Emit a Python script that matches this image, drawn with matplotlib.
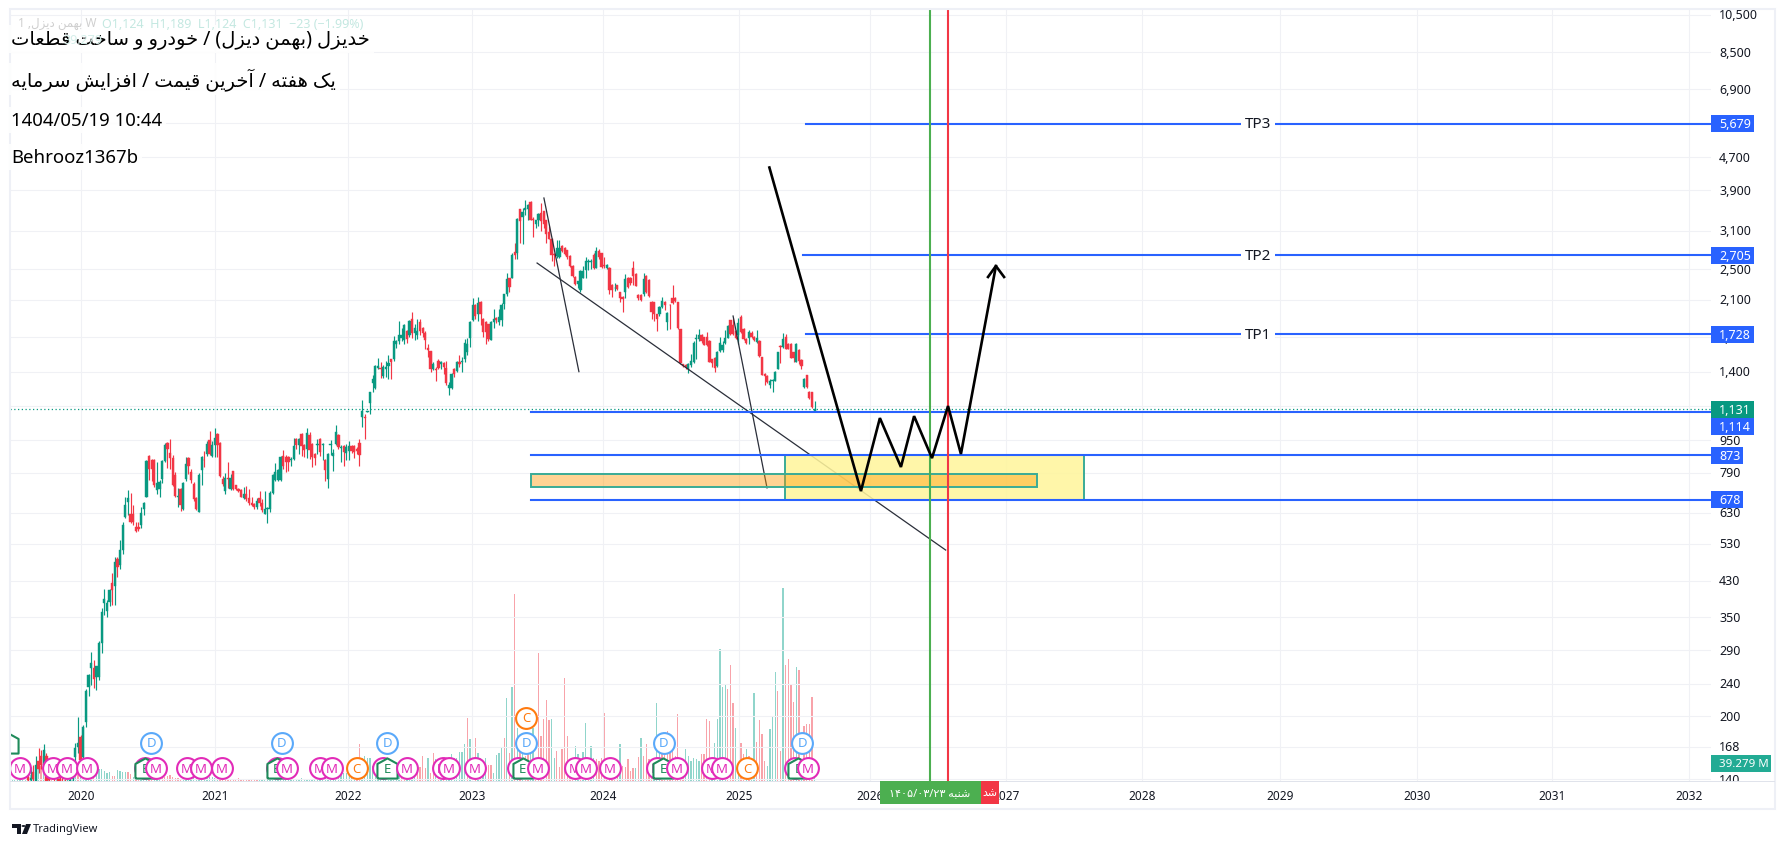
import matplotlib
matplotlib.use("Agg")
from matplotlib.patches import Circle, Polygon, Rectangle
import matplotlib.pyplot as plt
from matplotlib.transforms import ScaledTranslation
import numpy as np

WIDTH, HEIGHT = 1785, 845
AX_LEFT, AX_RIGHT, AX_TOP, AX_BOTTOM = 10, 1711, 10, 782

UP_COLOR = '#089981'
DOWN_COLOR = '#f23645'
BLUE = '#2962ff'
GRID = '#f0f1f5'
TEXT = '#131722'

# weekly candles, one value per bar
opens = [
    142, 139, 146, 135, 155, 160, 152, 160, 155, 148,
    145, 142, 140, 138, 136, 134, 136, 140, 159, 168,
    178, 159, 193, 236, 262, 262, 250, 250, 302, 378,
    362, 382, 424, 417, 487, 470, 510, 616, 672, 628,
    628, 583, 583, 590, 645, 690, 870, 851, 851, 719,
    720, 764, 845, 935, 885, 860, 780, 690, 720, 644,
    765, 860, 795, 742, 685, 635, 805, 852, 880, 950,
    870, 925, 985, 935, 765, 715, 768, 720, 797, 737,
    722, 716, 685, 702, 685, 667, 664, 652, 685, 665,
    628, 645, 643, 705, 758, 758, 758, 870, 865, 865,
    850, 855, 955, 925, 985, 925, 905, 980, 930, 880,
    925, 955, 925, 850, 762, 925, 870, 930, 980, 910,
    920, 885, 895, 920, 920, 905, 935, 1085, 1085, 1115,
    1175, 1315, 1275, 1430, 1430, 1365, 1420, 1445, 1500, 1500,
    1635, 1660, 1690, 1670, 1760, 1720, 1885, 1740, 1725, 1850,
    1795, 1745, 1600, 1570, 1425, 1425, 1490, 1465, 1470, 1430,
    1280, 1275, 1425, 1405, 1480, 1475, 1505, 1565, 1695, 1875,
    2040, 1935, 2075, 1890, 1855, 1830, 1675, 1855, 1900, 1850,
    1870, 2050, 2170, 2375, 2375, 2750, 2730, 3500, 3350, 3480,
    3510, 3660, 3310, 3220, 3300, 3430, 3460, 3290, 3080, 2970,
    2725, 2690, 2680, 2840, 2810, 2780, 2690, 2550, 2395, 2300,
    2225, 2380, 2490, 2600, 2600, 2700, 2520, 2770, 2730, 2555,
    2520, 2520, 2290, 2240, 2280, 2190, 2140, 2200, 2380, 2380,
    2510, 2430, 2160, 2160, 2170, 2410, 2350, 2080, 2070, 1935,
    1935, 2020, 2070, 1850, 2045, 2120, 2125, 2075, 1780, 1460,
    1455, 1420, 1450, 1480, 1680, 1680, 1725, 1700, 1700, 1660,
    1500, 1515, 1445, 1570, 1585, 1645, 1695, 1870, 1820, 1765,
    1720, 1905, 1785, 1685, 1690, 1740, 1700, 1655, 1665, 1520,
    1385, 1365, 1300, 1325, 1330, 1425, 1615, 1610, 1700, 1640,
    1640, 1560, 1480, 1580, 1495, 1285, 1370, 1250, 1245, 1124,
]
highs = [
    146, 150, 152, 160, 167, 165, 171, 162, 158, 154,
    150, 146, 144, 142, 140, 139, 142, 155, 172, 199,
    180, 190, 233, 254, 288, 274, 266, 305, 368, 410,
    385, 410, 449, 492, 492, 540, 600, 688, 718, 707,
    659, 600, 600, 652, 672, 850, 872, 855, 855, 841,
    760, 850, 935, 940, 958, 875, 795, 725, 725, 750,
    865, 865, 808, 752, 690, 790, 870, 895, 945, 1000,
    945, 1020, 990, 940, 775, 790, 840, 785, 800, 738,
    724, 720, 730, 733, 720, 690, 668, 685, 715, 680,
    715, 650, 712, 785, 835, 810, 870, 898, 872, 870,
    862, 960, 965, 960, 990, 930, 1020, 995, 935, 885,
    955, 960, 935, 855, 885, 950, 905, 1035, 985, 925,
    925, 930, 945, 925, 925, 915, 955, 1190, 1100, 1122,
    1250, 1370, 1455, 1510, 1480, 1450, 1490, 1540, 1505, 1715,
    1670, 1860, 1790, 1830, 1770, 1875, 1960, 1830, 1880, 1880,
    1800, 1760, 1640, 1575, 1475, 1440, 1500, 1490, 1480, 1490,
    1320, 1390, 1430, 1490, 1540, 1520, 1680, 1690, 1860, 2120,
    2050, 2130, 2085, 1895, 1860, 1835, 1860, 1990, 1905, 1990,
    2060, 2170, 2440, 2380, 2730, 2890, 3340, 3510, 3520, 3700,
    3610, 3680, 3350, 3290, 3430, 3620, 3470, 3300, 3180, 2980,
    2730, 2950, 2950, 2860, 2830, 2790, 2700, 2560, 2400, 2340,
    2480, 2550, 2680, 2650, 2640, 2740, 2830, 2800, 2740, 2680,
    2570, 2530, 2300, 2310, 2290, 2200, 2150, 2430, 2390, 2390,
    2620, 2440, 2170, 2170, 2440, 2420, 2360, 2090, 2080, 1940,
    2030, 2130, 2085, 1960, 2050, 2290, 2140, 2080, 1785, 1465,
    1465, 1470, 1545, 1660, 1730, 1785, 1735, 1705, 1750, 1670,
    1505, 1525, 1570, 1700, 1660, 1770, 1825, 1875, 1900, 1770,
    1900, 1930, 1790, 1690, 1770, 1760, 1710, 1770, 1670, 1525,
    1390, 1370, 1340, 1345, 1405, 1565, 1625, 1740, 1735, 1650,
    1650, 1565, 1650, 1590, 1500, 1350, 1375, 1255, 1250, 1189,
]
lows = [
    130, 132, 135, 130, 145, 148, 150, 135, 135, 140,
    138, 136, 134, 132, 130, 130, 133, 138, 150, 162,
    152, 156, 188, 224, 238, 234, 232, 245, 285, 355,
    350, 372, 375, 375, 439, 460, 500, 612, 622, 595,
    590, 565, 570, 580, 622, 690, 758, 755, 730, 700,
    688, 745, 840, 812, 810, 735, 690, 650, 636, 640,
    755, 785, 745, 675, 640, 632, 740, 815, 870, 875,
    865, 865, 865, 770, 735, 702, 725, 718, 718, 716,
    708, 688, 680, 675, 660, 655, 645, 645, 655, 635,
    625, 595, 635, 703, 755, 755, 755, 810, 795, 800,
    822, 850, 905, 878, 870, 862, 860, 855, 815, 825,
    880, 870, 850, 755, 725, 875, 800, 925, 905, 840,
    820, 850, 850, 885, 860, 880, 820, 1025, 955, 1112,
    1100, 1250, 1270, 1420, 1350, 1350, 1360, 1340, 1345, 1490,
    1600, 1640, 1660, 1635, 1650, 1700, 1690, 1670, 1680, 1720,
    1700, 1590, 1520, 1400, 1410, 1330, 1420, 1420, 1380, 1300,
    1225, 1270, 1355, 1395, 1440, 1400, 1480, 1540, 1610, 1860,
    1880, 1860, 1820, 1700, 1640, 1660, 1670, 1790, 1840, 1820,
    1810, 2000, 2150, 2200, 2370, 2640, 2640, 2900, 2880, 3390,
    3300, 3290, 3000, 3150, 3190, 3100, 3150, 2900, 2960, 2620,
    2540, 2660, 2660, 2750, 2700, 2640, 2530, 2390, 2280, 2240,
    2190, 2370, 2370, 2480, 2500, 2500, 2510, 2650, 2520, 2520,
    2500, 2170, 2130, 2210, 2220, 2080, 1960, 2120, 2240, 2280,
    2290, 2270, 2100, 2090, 2150, 2180, 2140, 1890, 1860, 1760,
    1920, 2010, 1980, 1770, 1780, 2055, 2080, 1785, 1465, 1440,
    1420, 1390, 1440, 1470, 1500, 1660, 1650, 1625, 1620, 1475,
    1440, 1395, 1440, 1565, 1560, 1640, 1690, 1725, 1720, 1680,
    1640, 1745, 1670, 1640, 1640, 1690, 1660, 1650, 1525, 1370,
    1300, 1310, 1280, 1245, 1325, 1420, 1470, 1600, 1590, 1590,
    1510, 1480, 1475, 1465, 1420, 1280, 1280, 1200, 1140, 1124,
]
closes = [
    139, 141, 140, 152, 148, 152, 165, 138, 139, 144,
    142, 140, 138, 136, 134, 136, 139, 150, 167, 172,
    156, 188, 231, 252, 270, 247, 265, 303, 361, 387,
    378, 407, 407, 477, 465, 510, 590, 659, 685, 600,
    600, 570, 577, 631, 665, 845, 810, 810, 736, 748,
    750, 845, 925, 905, 860, 740, 695, 695, 660, 746,
    830, 823, 757, 682, 643, 780, 865, 848, 930, 880,
    925, 960, 925, 775, 742, 768, 762, 768, 720, 720,
    712, 690, 702, 682, 667, 660, 650, 674, 665, 640,
    643, 648, 705, 780, 795, 803, 865, 820, 840, 838,
    855, 920, 925, 955, 920, 900, 990, 900, 865, 860,
    930, 890, 930, 805, 880, 930, 885, 995, 915, 915,
    890, 915, 920, 895, 890, 895, 875, 1120, 1075, 1120,
    1245, 1345, 1445, 1445, 1420, 1440, 1440, 1470, 1475, 1665,
    1660, 1725, 1725, 1820, 1685, 1860, 1740, 1790, 1765, 1760,
    1740, 1670, 1585, 1420, 1460, 1410, 1430, 1475, 1440, 1310,
    1295, 1380, 1385, 1480, 1465, 1490, 1645, 1640, 1850, 2035,
    1920, 2065, 1935, 1750, 1750, 1680, 1855, 1890, 1870, 1905,
    2045, 2165, 2365, 2260, 2710, 2710, 3320, 3280, 3450, 3520,
    3590, 3300, 3290, 3290, 3420, 3280, 3220, 3050, 2970, 2710,
    2700, 2810, 2810, 2770, 2720, 2670, 2540, 2405, 2300, 2335,
    2470, 2470, 2610, 2620, 2610, 2520, 2770, 2680, 2530, 2540,
    2560, 2220, 2220, 2250, 2235, 2120, 2110, 2360, 2260, 2310,
    2400, 2270, 2120, 2100, 2360, 2190, 2150, 1960, 1935, 1890,
    2020, 2090, 2040, 1945, 2035, 2065, 2090, 1790, 1470, 1445,
    1440, 1460, 1490, 1650, 1690, 1725, 1665, 1630, 1630, 1480,
    1470, 1430, 1560, 1645, 1630, 1695, 1815, 1735, 1735, 1695,
    1840, 1750, 1680, 1645, 1755, 1700, 1670, 1690, 1530, 1375,
    1365, 1320, 1330, 1332, 1400, 1560, 1605, 1680, 1595, 1595,
    1515, 1515, 1640, 1490, 1445, 1345, 1285, 1205, 1145, 1131,
]

# volume in millions, starts 7 bars before the first visible candle
VOLUME_START = -7
volumes = [
    2, 2, 2, 2, 2, 2, 2, 11, 13, 17,
    26, 26, 33, 22, 22, 17, 13, 13, 17, 13,
    13, 13, 11, 11, 11, 22, 26, 31, 39, 31,
    33, 33, 31, 26, 26, 26, 22, 17, 20, 11,
    11, 24, 22, 20, 20, 20, 15, 9, 7, 11,
    9, 7, 9, 11, 13, 9, 7, 9, 11, 9,
    11, 13, 9, 7, 7, 4, 7, 7, 7, 7,
    7, 7, 7, 7, 7, 7, 9, 9, 7, 7,
    7, 4, 4, 2, 2, 2, 4, 7, 4, 4,
    4, 4, 4, 4, 4, 4, 4, 4, 4, 4,
    7, 7, 7, 7, 7, 4, 7, 4, 4, 4,
    4, 7, 4, 4, 4, 4, 4, 4, 7, 7,
    7, 7, 4, 7, 7, 7, 13, 17, 17, 17,
    22, 28, 48, 81, 50, 55, 50, 50, 33, 22,
    20, 20, 22, 22, 26, 22, 15, 20, 24, 24,
    17, 17, 17, 22, 20, 26, 31, 55, 28, 50,
    17, 61, 48, 22, 44, 33, 44, 44, 59, 50,
    50, 63, 63, 81, 137, 92, 52, 94, 61, 50,
    39, 50, 35, 35, 17, 57, 61, 72, 94, 181,
    61, 205, 408, 116, 70, 65, 55, 61, 65, 116,
    44, 279, 98, 135, 177, 133, 135, 50, 65, 31,
    70, 225, 98, 26, 48, 76, 59, 35, 63, 126,
    26, 76, 50, 48, 44, 50, 148, 50, 44, 44,
    50, 33, 81, 33, 31, 48, 22, 28, 28, 52,
    94, 55, 81, 48, 44, 33, 170, 72, 94, 76,
    109, 94, 87, 55, 146, 44, 33, 70, 55, 44,
    50, 48, 44, 59, 59, 135, 131, 44, 83, 135,
    288, 205, 211, 200, 253, 170, 116, 33, 83, 59,
    70, 55, 33, 192, 85, 133, 102, 44, 33, 113,
    142, 238, 196, 65, 421, 253, 266, 209, 172, 249,
    242, 33, 120, 124, 124, 183, 39.279,
]
volume_dirs = (
    "tttttttrtr" "ttrtrtrttt" "rtttttrtt"  "t" "ttrttttttr" "rttttrrtrr"
    "tttrrtttrr" "rrrrrrtttt" "tttttttttt" "rrrrrrrrrr" "rrrrrttttt"
    "tttttttttt" "tttttttttt" "tttttttttt" "ttrrtttttt" "tttttttttr"
    "rttttrrrrt" "rrtrtrtttt" "ttttrtrrt"  "t" "ttrrttttrt" "rtrtrtrrtt"
    "rrrrrrttrr" "rrrrrttrtt" "rttrrrrrrr" "rrtrrrrrtr" "trrrrtttrr"
    "rrrrrrrttt" "tttrrrrttt" "tttrrrttrr" "trttrrrrtt" "ttrrtrrrrt"
    "rtrrrrt"
)

# bar position of each January, years are not evenly spaced on a bar axis
year_ticks = [20.1, 71.1, 121.6, 168.8, 218.5, 270.2, 320.2, 371.9, 423.4, 475.9, 527.9, 579.2, 631.3]
year_labels = ['2020', '2021', '2022', '2023', '2024', '2025', '2026', '2027', '2028', '2029', '2030', '2031', '2032']
price_ticks = [10500, 8500, 6900, 5700, 4700, 3900, 3100, 2500, 2100, 1700, 1400, 1150, 950, 790, 630,
               530, 430, 350, 290, 240, 200, 168, 140]

# drawings on the chart
tp_levels = [5679, 2705, 1728]
tp_names = ['TP3', 'TP2', 'TP1']
tp_starts = [295.7, 294.6, 295.7]
zone_levels = [1114, 873, 678]
zone_start = 191.2
yellow_box = (287.9, 401.4, 678, 873)
orange_box = (191.2, 383.5, 729, 785)
green_bar = 342.8
red_bar = 349.7
path_x = [281.8, 316.6, 323.8, 331.8, 336.8, 343.6, 349.7, 354.6, 367.9]
path_y = [4436, 713, 1077, 817, 1089, 859, 1153, 879, 2543]
arrow_x = [364.9, 367.9, 371.0]
arrow_y = [2390, 2543, 2390]
thin_lines = [
    ([196.1, 209.4], [3734, 1400]),
    ([193.5, 348.8], [2586, 511]),
    ([268.0, 280.9], [1917, 726]),
]

# corporate events along the bottom
m_events = [-3, 9.5, 14.8, 22.4, 44.5, 48.7, 60.4, 65.8, 73.7, 94.6, 98.4, 111, 115.5, 134.9, 144, 157.7,
            160, 169.9, 186.2, 193.8, 207.9, 212.1, 221.2, 239.1, 246.7, 260, 263.8, 291.5, 296.5]
d_events = [46.8, 96.5, 136.5, 189.3, 241.7, 294.2]
c_events = [125, 273.3]
c_upper_events = [189.3]
e_events = [44.5, 94.6, 136.5, 188.1, 241.4, 292.7]
e_upper_events = [-7.6]
LOW_ROW, MID_ROW, HIGH_ROW = 149, 172, 198

ARABIC_FORMS = {
    'ا': '\ufe8d\ufe8e', 'آ': '\ufe81\ufe82', 'د': '\ufea9\ufeaa', 'ر': '\ufead\ufeae',
    'ز': '\ufeaf\ufeb0', 'و': '\ufeed\ufeee',
    'ب': '\ufe8f\ufe90\ufe91\ufe92', 'ت': '\ufe95\ufe96\ufe97\ufe98', 'خ': '\ufea5\ufea6\ufea7\ufea8',
    'س': '\ufeb1\ufeb2\ufeb3\ufeb4', 'ش': '\ufeb5\ufeb6\ufeb7\ufeb8', 'ط': '\ufec1\ufec2\ufec3\ufec4',
    'ع': '\ufec9\ufeca\ufecb\ufecc', 'ف': '\ufed1\ufed2\ufed3\ufed4', 'ق': '\ufed5\ufed6\ufed7\ufed8',
    'ک': '\ufb8e\ufb8f\ufb90\ufb91', 'ل': '\ufedd\ufede\ufedf\ufee0', 'م': '\ufee1\ufee2\ufee3\ufee4',
    'ن': '\ufee5\ufee6\ufee7\ufee8', 'ه': '\ufee9\ufeea\ufeeb\ufeec', 'ی': '\ufbfc\ufbfd\ufbfe\ufbff',
}
MIRROR = {'(': ')', ')': '('}


def shape_rtl(text):
    # matplotlib has no bidi or arabic shaping, so pick the joined forms and lay out left to right
    out = []
    for i, ch in enumerate(text):
        forms = ARABIC_FORMS.get(ch)
        if forms is None:
            out.append(MIRROR.get(ch, ch))
            continue
        prev = text[i - 1] if i > 0 else ' '
        nxt = text[i + 1] if i + 1 < len(text) else ' '
        joins_prev = len(ARABIC_FORMS.get(prev, '')) == 4
        joins_next = len(forms) == 4 and nxt in ARABIC_FORMS
        if joins_prev and joins_next:
            out.append(forms[3])
        elif joins_prev:
            out.append(forms[1])
        elif joins_next:
            out.append(forms[2])
        else:
            out.append(forms[0])
    return ''.join(reversed(out))


def fx(px):
    return px / WIDTH


def fy(px):
    return 1 - px / HEIGHT


def price_to_px(ax, price):
    return HEIGHT - ax.transData.transform((0, price))[1]


def price_label(fig, y_px, text, color, box_width, fontsize=9):
    fig.add_artist(Rectangle((fx(AX_RIGHT), fy(y_px + 8.5)), box_width / WIDTH, 17 / HEIGHT,
                             transform=fig.transFigure, facecolor=color, edgecolor='none', zorder=4))
    fig.text(fx(AX_RIGHT + 8), fy(y_px), text, color='white', fontsize=fontsize, va='center', ha='left', zorder=5)


def draw_candles(ax):
    xs = np.arange(len(opens))
    o, h, l, c = map(np.array, (opens, highs, lows, closes))
    colors = [UP_COLOR if close >= op else DOWN_COLOR for op, close in zip(opens, closes)]
    ax.vlines(xs, l, h, colors=colors, linewidth=0.85, zorder=3)
    ax.bar(xs, np.abs(c - o), bottom=np.minimum(o, c), width=0.85, color=colors,
           edgecolor=colors, linewidth=0.3, zorder=3)


def draw_volumes(ax):
    xs = np.arange(len(volumes)) + VOLUME_START
    colors = ['#90d5cb' if d == 't' else '#f8a3aa' for d in volume_dirs]
    ax.bar(xs, volumes, width=0.5, color=colors, linewidth=0)


def draw_event(ax, x, row, letter, color, house=False):
    if house:
        marker = [(-1, -1), (1, -1), (1, 0.45), (0, 1), (-1, 0.45), (-1, -1)]
        size = 210
    else:
        marker = 'o'
        size = 225
    ax.scatter([x], [row], s=size, marker=marker, facecolor='white', edgecolor=color, linewidth=1.5, zorder=8)
    ax.text(x, row, letter, color=color, fontsize=9.5, ha='center', va='center', zorder=8, clip_on=True)


def draw_events(ax):
    events = []
    for x in m_events:
        events.append((x, LOW_ROW, 'M', '#e22bb8', False))
    for x in d_events:
        events.append((x, MID_ROW, 'D', '#5aa9fa', False))
    for x in c_events:
        events.append((x, LOW_ROW, 'C', '#ff7a0f', False))
    for x in c_upper_events:
        events.append((x, HIGH_ROW, 'C', '#ff7a0f', False))
    for x in e_events:
        events.append((x, LOW_ROW, 'E', '#1e8a5a', True))
    for x in e_upper_events:
        events.append((x, MID_ROW, '', '#1e8a5a', True))
    for event in sorted(events, key=lambda e: e[0]):
        draw_event(ax, *event)


def draw_drawings(ax):
    ax.axhline(closes[-1], color=UP_COLOR, linewidth=0.9, linestyle=(0, (1, 2)), zorder=4)

    for xs, ys in thin_lines:
        ax.plot(xs, ys, color='#2a2e39', linewidth=0.9, zorder=4)

    x0, x1, y0, y1 = yellow_box
    ax.add_patch(Rectangle((x0, y0), x1 - x0, y1 - y0, facecolor='#fff59d', alpha=0.87,
                           edgecolor='none', zorder=5))
    ax.add_patch(Rectangle((x0, y0), x1 - x0, y1 - y0, facecolor='none', edgecolor='#3aab96',
                           linewidth=1.4, zorder=5))
    x0, x1, y0, y1 = orange_box
    ax.add_patch(Rectangle((x0, y0), x1 - x0, y1 - y0, facecolor='#ff9800', alpha=0.42,
                           edgecolor='none', zorder=5))
    ax.add_patch(Rectangle((x0, y0), x1 - x0, y1 - y0, facecolor='none', edgecolor='#3aab96',
                           linewidth=1.4, zorder=5))

    xmax = ax.get_xlim()[1]
    for level, start, name in zip(tp_levels, tp_starts, tp_names):
        ax.plot([start, xmax], [level, level], color=BLUE, linewidth=1.5, zorder=6)
        ax.text(467.5, level, name, color=TEXT, fontsize=11, ha='center', va='center', zorder=6,
                bbox=dict(facecolor='white', edgecolor='none', pad=2.5))
    for level in zone_levels:
        ax.plot([zone_start, xmax], [level, level], color=BLUE, linewidth=1.5, zorder=6)

    ax.axvline(green_bar, color='#4caf50', linewidth=1.5, zorder=6)
    ax.axvline(red_bar, color=DOWN_COLOR, linewidth=1.5, zorder=6)

    ax.plot(path_x, path_y, color='black', linewidth=1.9, solid_joinstyle='miter', zorder=7)
    ax.plot(arrow_x, arrow_y, color='black', linewidth=1.9, zorder=7)


def draw_price_labels(fig, ax):
    for level, text in zip(tp_levels, ['5,679', '2,705', '1,728']):
        price_label(fig, price_to_px(ax, level), text, BLUE, 43)
    last_px = price_to_px(ax, closes[-1])
    price_label(fig, last_px, '1,131', UP_COLOR, 43)
    price_label(fig, last_px + 17, '1,114', BLUE, 43)
    price_label(fig, price_to_px(ax, 873), '873', BLUE, 32)
    price_label(fig, price_to_px(ax, 678), '678', BLUE, 32)
    price_label(fig, 764.5, '39.279 M', '#22ab94', 60, fontsize=8.3)


def draw_header(fig):
    lines = [
        (40, shape_rtl('خدیزل (بهمن دیزل) / خودرو و ساخت قطعات'), 14),
        (80, shape_rtl('یک هفته / آخرین قیمت / افزایش سرمایه'), 14),
        (121, '1404/05/19 10:44', 13.4),
        (158, 'Behrooz1367b', 13.4),
    ]
    # faint chart legend that sits under the note
    fig.text(fx(18), fy(24), '1 ,' + shape_rtl('بهمن دیزل') + ' W', color='#cfcfcf', fontsize=8.5,
             va='center', zorder=6)
    fig.text(fx(102), fy(24), 'O1,124  H1,189  L1,124  C1,131  −23 (−1.99%)', color='#c4e8e1', fontsize=9,
             va='center', zorder=6)
    fig.text(fx(64), fy(40), '39.279', color='#d5efea', fontsize=9, va='center', zorder=6)
    for y_px, text, size in lines:
        fig.text(fx(11), fy(y_px), text, color='black', fontsize=size, va='center', ha='left', zorder=5,
                 bbox=dict(facecolor='white', edgecolor='none', alpha=0.88, pad=3))


def draw_time_labels(fig):
    fig.add_artist(Rectangle((fx(897), fy(805)), 102 / WIDTH, 23 / HEIGHT, transform=fig.transFigure,
                             facecolor=DOWN_COLOR, edgecolor='none', zorder=4))
    fig.text(fx(990), fy(794), shape_rtl('شد'), color='white', fontsize=8, ha='center', va='center', zorder=4)
    fig.add_artist(Rectangle((fx(880), fy(805)), 101 / WIDTH, 23 / HEIGHT, transform=fig.transFigure,
                             facecolor='#4caf50', edgecolor='none', zorder=5))
    fig.text(fx(930), fy(794), '۱۴۰۵/۰۳/۲۳ ' + shape_rtl('شنبه'), color='white', fontsize=8,
             ha='center', va='center', zorder=5)


def draw_frame(fig):
    border = '#eef0f6'
    fig.add_artist(Rectangle((fx(10), fy(810)), 1765 / WIDTH, 800 / HEIGHT, transform=fig.transFigure,
                             facecolor='none', edgecolor=border, linewidth=1.5, zorder=3))
    # the time axis cuts off the lowest price label
    fig.add_artist(Rectangle((fx(1712), fy(791)), 62 / WIDTH, 9 / HEIGHT, transform=fig.transFigure,
                             facecolor='white', edgecolor='none', zorder=3))
    fig.add_artist(Rectangle((fx(10), fy(783)), 1765 / WIDTH, 1 / HEIGHT, transform=fig.transFigure,
                             facecolor='#e0e3eb', edgecolor='none', zorder=3))


def draw_logo(fig):
    logo = '#131722'
    fig.add_artist(Polygon([(fx(12), fy(825)), (fx(21), fy(825)), (fx(21), fy(835)), (fx(17), fy(835)),
                            (fx(17), fy(829)), (fx(12), fy(829))], closed=True, transform=fig.transFigure,
                           facecolor=logo, edgecolor='none'))
    fig.add_artist(Polygon([(fx(26), fy(825)), (fx(31), fy(825)), (fx(27), fy(835)), (fx(22), fy(835))],
                           closed=True, transform=fig.transFigure, facecolor=logo, edgecolor='none'))
    fig.add_artist(Circle((fx(23.5), fy(827)), 2 / WIDTH, transform=fig.transFigure, facecolor=logo,
                          edgecolor='none'))
    fig.text(fx(33), fy(830), 'TradingView', color=logo, fontsize=8, fontweight='bold', va='center')


def main():
    plt.rcParams['font.family'] = ['Noto Sans', 'DejaVu Sans']

    fig = plt.figure(figsize=(WIDTH / 100, HEIGHT / 100), dpi=100, facecolor='white')
    rect = [fx(AX_LEFT), 1 - AX_BOTTOM / HEIGHT, (AX_RIGHT - AX_LEFT) / WIDTH, (AX_BOTTOM - AX_TOP) / HEIGHT]
    ax = fig.add_axes(rect)
    vol_ax = ax.twinx()

    ax.set_zorder(2)
    vol_ax.set_zorder(1)
    ax.patch.set_visible(False)

    ax.set_yscale('log')
    ax.set_xlim(-6.84, 639.7)
    ax.set_ylim(138.6, 10862)
    ax.set_yticks(price_ticks)
    ax.set_yticklabels(['{:,}'.format(p) for p in price_ticks], fontsize=9, color=TEXT)
    ax.minorticks_off()
    ax.yaxis.tick_right()
    ax.tick_params(axis='y', length=0, pad=5.8)
    # noto digits sit a little low against the tick
    nudge = ScaledTranslation(0, 1.5 / 100, fig.dpi_scale_trans)
    for label in ax.get_yticklabels():
        label.set_transform(label.get_transform() + nudge)
    ax.set_xticks(year_ticks)
    ax.set_xticklabels(year_labels, fontsize=8.5, color=TEXT, fontweight='bold')
    ax.tick_params(axis='x', length=0, pad=5.5)
    ax.grid(True, color=GRID, linewidth=0.8, zorder=0)
    ax.set_axisbelow(True)
    for side in ax.spines:
        ax.spines[side].set_visible(False)

    vol_ax.set_ylim(0, 1683)
    vol_ax.axis('off')

    draw_volumes(vol_ax)
    draw_candles(ax)
    draw_drawings(ax)
    draw_events(ax)

    fig.canvas.draw()
    draw_frame(fig)
    draw_price_labels(fig, ax)
    draw_header(fig)
    draw_time_labels(fig)
    draw_logo(fig)

    fig.savefig('out.png', dpi=100, facecolor='white')


if __name__ == "__main__":
    main()
